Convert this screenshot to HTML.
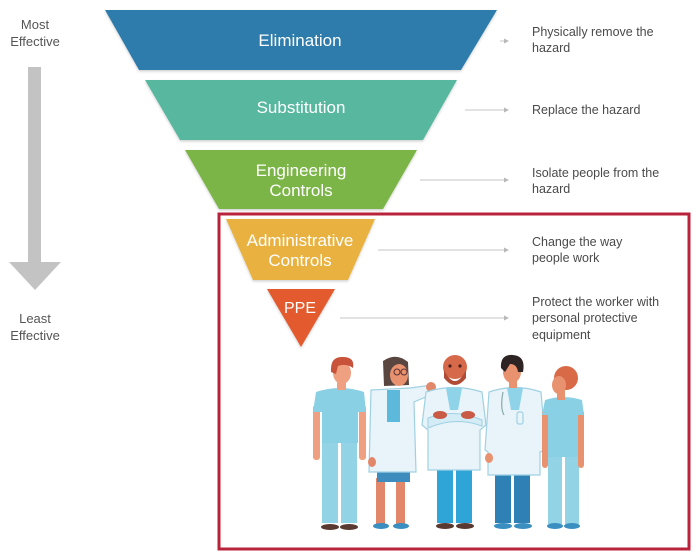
<!DOCTYPE html>
<html>
<head>
<meta charset="utf-8">
<style>
html,body{margin:0;padding:0;background:#fff;}
body{width:700px;height:556px;overflow:hidden;}
svg{display:block;}
.lbl{font-family:"Liberation Sans",Arial,sans-serif;fill:#fff;font-size:17px;text-anchor:middle;}
.side{font-family:"Liberation Sans",Arial,sans-serif;fill:#555;font-size:13px;text-anchor:middle;}
.desc{font-family:"Liberation Sans",Arial,sans-serif;fill:#4a4a4a;font-size:12.5px;}
</style>
</head>
<body>
<svg width="700" height="556" viewBox="0 0 700 556" xmlns="http://www.w3.org/2000/svg">
  <defs>
    <filter id="sh" x="-5%" y="-10%" width="110%" height="130%">
      <feDropShadow dx="0" dy="1.5" stdDeviation="1.2" flood-color="#000" flood-opacity="0.18"/>
    </filter>
  </defs>

  <!-- Left side labels and arrow -->
  <text class="side" x="35" y="29">Most</text>
  <text class="side" x="35" y="46">Effective</text>
  <rect x="28" y="67" width="13" height="196" fill="#c3c3c3"/>
  <polygon points="9,262 61,262 35,290" fill="#c3c3c3"/>
  <text class="side" x="35" y="323">Least</text>
  <text class="side" x="35" y="340">Effective</text>

  <!-- Pyramid -->
  <polygon points="105,10 497,10 461,70 139,70" fill="#2e7cab" filter="url(#sh)"/>
  <text class="lbl" x="300" y="46">Elimination</text>

  <polygon points="145,80 457,80 423,140 180,140" fill="#58b79f" filter="url(#sh)"/>
  <text class="lbl" x="301" y="113">Substitution</text>

  <polygon points="185,150 417,150 383,209 219,209" fill="#7cb547" filter="url(#sh)"/>
  <text class="lbl" x="301" y="176">Engineering</text>
  <text class="lbl" x="301" y="196">Controls</text>

  <!-- Red box -->
  <rect x="219" y="214" width="470" height="335" fill="none" stroke="#b8233b" stroke-width="3"/>

  <polygon points="226,219 375,219 348,280 253,280" fill="#e9b241" filter="url(#sh)"/>
  <text class="lbl" x="300" y="246">Administrative</text>
  <text class="lbl" x="300" y="266">Controls</text>

  <polygon points="267,289 335,289 301,347" fill="#e25a2d" filter="url(#sh)"/>
  <text class="lbl" x="300" y="313" style="font-size:16px">PPE</text>

  <!-- Connector arrows -->
  <g stroke="#c4c4c4" stroke-width="1" fill="none">
    <line x1="500" y1="41" x2="505" y2="41"/>
    <line x1="465" y1="110" x2="505" y2="110"/>
    <line x1="420" y1="180" x2="505" y2="180"/>
    <line x1="378" y1="250" x2="505" y2="250"/>
    <line x1="340" y1="318" x2="505" y2="318"/>
  </g>
  <g fill="#b8b8b8">
    <polygon points="504,38.5 509,41 504,43.5"/>
    <polygon points="504,107.5 509,110 504,112.5"/>
    <polygon points="504,177.5 509,180 504,182.5"/>
    <polygon points="504,247.5 509,250 504,252.5"/>
    <polygon points="504,315.5 509,318 504,320.5"/>
  </g>

  <!-- Descriptions -->
  <text class="desc" x="532" y="36">Physically remove the</text>
  <text class="desc" x="532" y="52">hazard</text>
  <text class="desc" x="532" y="114">Replace the hazard</text>
  <text class="desc" x="532" y="177">Isolate people from the</text>
  <text class="desc" x="532" y="193">hazard</text>
  <text class="desc" x="532" y="246">Change the way</text>
  <text class="desc" x="532" y="262">people work</text>
  <text class="desc" x="532" y="306">Protect the worker with</text>
  <text class="desc" x="532" y="322">personal protective</text>
  <text class="desc" x="532" y="339">equipment</text>

  <!-- People illustration -->
  <!-- Person 1: scrubs, red hair -->
  <g>
    <rect x="322" y="440" width="16" height="83" fill="#92d3e6"/>
    <rect x="341" y="440" width="16" height="83" fill="#92d3e6"/>
    <ellipse cx="330" cy="527" rx="9" ry="3" fill="#5a3a30"/>
    <ellipse cx="349" cy="527" rx="9" ry="3" fill="#5a3a30"/>
    <rect x="313" y="405" width="7" height="55" rx="3" fill="#efa081"/>
    <rect x="359" y="405" width="7" height="55" rx="3" fill="#efa081"/>
    <path d="M316,392 Q340,384 364,392 L366,412 L358,412 L358,443 L322,443 L322,412 L313,412 Z" fill="#8ad0e5"/>
    <rect x="337" y="380" width="9" height="10" fill="#efa081"/>
    <ellipse cx="342" cy="373" rx="9" ry="11" fill="#efa081"/>
    <path d="M331,372 Q330,356 343,357 Q355,357 353,368 Q346,363 338,366 L336,374 Z" fill="#c9533a"/>
  </g>

  <!-- Person 2: woman in lab coat -->
  <g>
    <rect x="376" y="478" width="9" height="46" fill="#e2876a"/>
    <rect x="396" y="478" width="9" height="46" fill="#e2876a"/>
    <ellipse cx="381" cy="526" rx="8" ry="3" fill="#3a8fc0"/>
    <ellipse cx="401" cy="526" rx="8" ry="3" fill="#3a8fc0"/>
    <rect x="377" y="418" width="33" height="64" fill="#3e8cbe"/>
    <path d="M371,390 L410,388 L432,385 L435,393 L414,402 L416,472 L369,472 Z" fill="#e8f4f9" stroke="#9fd1e3" stroke-width="1.2"/>
    <rect x="387" y="390" width="13" height="32" fill="#5cb9dc"/>
    <circle cx="431" cy="387" r="5" fill="#e2876a"/>
    <ellipse cx="372" cy="462" rx="4" ry="5" fill="#e2876a"/>
    <path d="M383,361 Q396,352 408,362 L409,385 L384,386 Z" fill="#5a4640"/>
    <ellipse cx="399" cy="375" rx="9" ry="11" fill="#e8926f"/>
    <path d="M390,370 Q397,360 408,366 L408,363 Q397,355 389,366 Z" fill="#5a4640"/>
    <circle cx="397" cy="372" r="3" fill="none" stroke="#5a3030" stroke-width="1"/>
    <circle cx="404" cy="372" r="3" fill="none" stroke="#5a3030" stroke-width="1"/>
  </g>

  <!-- Person 3: bald, beard, arms crossed -->
  <g>
    <rect x="437" y="468" width="16" height="55" fill="#2ea4d7"/>
    <rect x="456" y="468" width="16" height="55" fill="#2ea4d7"/>
    <ellipse cx="445" cy="526" rx="9" ry="3" fill="#5a3a30"/>
    <ellipse cx="465" cy="526" rx="9" ry="3" fill="#5a3a30"/>
    <path d="M426,392 Q454,383 482,392 L486,425 L480,430 L480,470 L428,470 L428,430 L422,425 Z" fill="#e8f4f9" stroke="#9fd1e3" stroke-width="1.2"/>
    <path d="M446,388 L462,388 L458,410 L450,410 Z" fill="#8fd3e8"/>
    <path d="M428,418 Q455,408 482,420 L482,426 Q455,416 428,428 Z" fill="#d4ecf5" stroke="#9fd1e3" stroke-width="1"/>
    <ellipse cx="440" cy="415" rx="7" ry="4" fill="#c95a45"/>
    <ellipse cx="468" cy="415" rx="7" ry="4" fill="#c95a45"/>
    <circle cx="455" cy="367" r="12" fill="#d5694a"/>
    <path d="M444,370 Q455,392 466,370 L466,378 Q455,392 444,378 Z" fill="#b04c36"/>
    <circle cx="450" cy="366" r="1.6" fill="#4a2020"/>
    <circle cx="460" cy="366" r="1.6" fill="#4a2020"/>
  </g>

  <!-- Person 4: doctor, dark hair -->
  <g>
    <rect x="495" y="472" width="16" height="51" fill="#2f80b4"/>
    <rect x="514" y="472" width="16" height="51" fill="#2f80b4"/>
    <ellipse cx="503" cy="526" rx="9" ry="3" fill="#3a8fc0"/>
    <ellipse cx="523" cy="526" rx="9" ry="3" fill="#3a8fc0"/>
    <path d="M489,392 Q515,383 541,392 L546,450 L540,452 L540,475 L488,475 L488,452 L485,450 Z" fill="#e8f4f9" stroke="#9fd1e3" stroke-width="1.2"/>
    <path d="M507,388 L523,388 L519,410 L511,410 Z" fill="#8fd3e8"/>
    <path d="M503,392 Q500,408 504,415" fill="none" stroke="#8aa" stroke-width="1.2"/>
    <rect x="517" y="412" width="6" height="12" rx="2" fill="none" stroke="#9fd1e3" stroke-width="1.2"/>
    <ellipse cx="489" cy="458" rx="4" ry="5" fill="#e8926f"/>
    <rect x="509" y="378" width="8" height="10" fill="#e8926f"/>
    <ellipse cx="512" cy="372" rx="9" ry="11" fill="#e8926f"/>
    <path d="M501,368 Q500,354 513,355 Q526,356 523,372 L518,372 Q517,364 510,364 L505,372 Z" fill="#2f2424"/>
  </g>

  <!-- Person 5: woman in scrubs, red hair -->
  <g>
    <rect x="548" y="455" width="14" height="69" fill="#92d3e6"/>
    <rect x="565" y="455" width="14" height="69" fill="#92d3e6"/>
    <ellipse cx="555" cy="526" rx="8" ry="3" fill="#3a8fc0"/>
    <ellipse cx="572" cy="526" rx="8" ry="3" fill="#3a8fc0"/>
    <rect x="542" y="410" width="6" height="58" rx="3" fill="#e8926f"/>
    <rect x="578" y="410" width="6" height="58" rx="3" fill="#e8926f"/>
    <path d="M545,400 Q563,394 582,400 L584,415 L578,415 L578,457 L548,457 L548,415 L542,415 Z" fill="#8ad0e5"/>
    <rect x="557" y="390" width="8" height="10" fill="#e8926f"/>
    <circle cx="566" cy="378" r="12" fill="#d86a48"/>
    <ellipse cx="559" cy="385" rx="7" ry="9" fill="#e8926f"/>
  </g>
</svg>
</body>
</html>
